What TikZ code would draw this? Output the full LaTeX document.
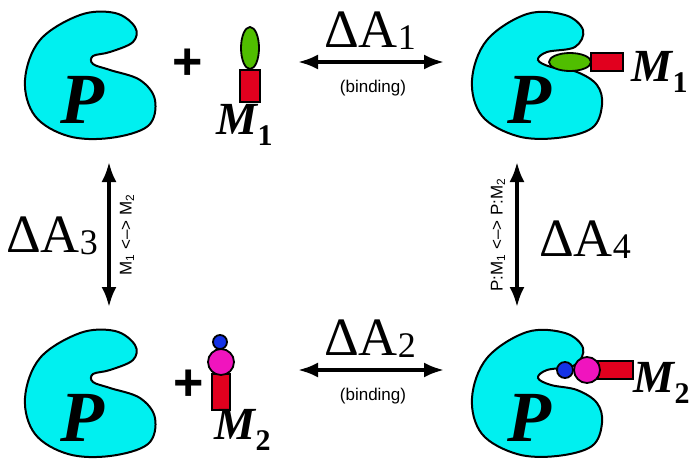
\documentclass[tikz,border=0pt]{standalone}
\usepackage{fontspec}
\setmainfont{Liberation Serif}
\setsansfont{Liberation Sans}
\usetikzlibrary{arrows.meta}
\definecolor{pcyan}{RGB}{0,240,240}
\definecolor{lgreen}{RGB}{80,190,0}
\definecolor{lred}{RGB}{225,0,30}
\definecolor{lmag}{RGB}{240,20,190}
\definecolor{lblue}{RGB}{20,50,230}
\begin{document}
\begin{tikzpicture}[x=1pt,y=-1pt,
  prot/.style={fill=pcyan,draw=black,line width=2pt},
  lig/.style={draw=black,line width=1.8pt},
  darrow/.style={line width=3.5pt,{Latex[length=20pt,width=15pt]}-{Latex[length=20pt,width=15pt]}},
  big/.style={font=\fontsize{54}{54}\selectfont},
  plab/.style={font=\fontsize{72}{72}\selectfont\bfseries\itshape},
  mlab/.style={font=\fontsize{46}{46}\selectfont\bfseries\itshape},
  small/.style={font=\sffamily\fontsize{17}{17}\selectfont},
  plus/.style={font=\sffamily\bfseries\fontsize{52}{52}\selectfont}]
\useasboundingbox (0,0) rectangle (695,461);
\def\freeP{plot[smooth cycle,tension=0.6] coordinates {(25,80) (40,40) (80,15) (115,13) (135,27) (133,42) (110,52) (93,56) (93,64) (110,70) (140,80) (155,100) (148,126) (110,138) (68,136) (35,116)}}
\def\boundP{plot[smooth cycle,tension=0.6] coordinates {(25,80) (40,40) (80,14) (118,15) (136,30) (128,47) (100,52) (91,60) (104,67) (130,72) (150,85) (155,105) (145,128) (110,138) (70,136) (35,116)}}
\newcommand{\mlabtext}[1]{M\textsubscript{\upshape\bfseries\fontsize{30}{30}\selectfont #1}}
\newcommand{\dlab}[1]{ΔA\raisebox{-2pt}{\fontsize{36}{36}\selectfont #1}}
% top-left
\draw[prot] \freeP;
\node[plab] (p1) at (82,100) {P};
\node[plus] (plus1) at (188,64) {+};
\draw[lig,fill=lgreen] (250,48) ellipse (9 and 21);
\draw[lig,fill=lred] (240,70) rectangle (260,102);
\node[mlab] (m1) at (245,125) {\mlabtext{1}};
% top-right
\begin{scope}[xshift=447]
\draw[prot] \boundP;
\node[plab] (p2) at (82,100) {P};
\end{scope}
\draw[lig,fill=lgreen] (570,62) ellipse (21 and 9);
\draw[lig,fill=lred] (591,53) rectangle (623,71);
\node[mlab] (m1b) at (660,72) {\mlabtext{1}};
% bottom-left
\begin{scope}[yshift=-318]
\draw[prot] \freeP;
\node[plab] (p3) at (82,100) {P};
\end{scope}
\node[plus] (plus2) at (189,385) {+};
\draw[lig,fill=lred] (212,374) rectangle (230,410);
\draw[lig,fill=lmag] (221,362) circle (13);
\draw[lig,fill=lblue] (220,342) circle (7);
\node[mlab] (m2) at (243,430) {\mlabtext{2}};
% bottom-right
\begin{scope}[xshift=447,yshift=-318]
\draw[prot] \boundP;
\node[plab] (p4) at (82,100) {P};
\end{scope}
\draw[lig,fill=lred] (598,361) rectangle (633,379);
\draw[lig,fill=lmag] (587,370) circle (13);
\draw[lig,fill=lblue] (565,370) circle (8);
\node[mlab] (m2b) at (662,383) {\mlabtext{2}};
% arrows
\coordinate (a1l) at (298,62); \coordinate (a1r) at (444,62);
\draw[darrow] (a1l) -- (a1r);
\node[big] (d1) at (370,31) {\dlab{1}};
\node[small] (b1) at (373,88) {(binding)};
\coordinate (a2l) at (298,370); \coordinate (a2r) at (444,370);
\draw[darrow] (a2l) -- (a2r);
\node[big] (d2) at (370,339) {\dlab{2}};
\node[small] (b2) at (373,396) {(binding)};
\coordinate (a3t) at (109,162); \coordinate (a3b) at (109,307);
\draw[darrow] (a3t) -- (a3b);
\node[big] (d3) at (52,236) {\dlab{3}};
\node[small,rotate=90] (t3) at (127,235) {M\textsubscript{1} <--> M\textsubscript{2}};
\coordinate (a4t) at (517,162); \coordinate (a4b) at (517,307);
\draw[darrow] (a4t) -- (a4b);
\node[big] (d4) at (585,240) {\dlab{4}};
\node[small,rotate=90] (t4) at (498,235) {P:M\textsubscript{1} <--> P:M\textsubscript{2}};
\end{tikzpicture}
\end{document}
